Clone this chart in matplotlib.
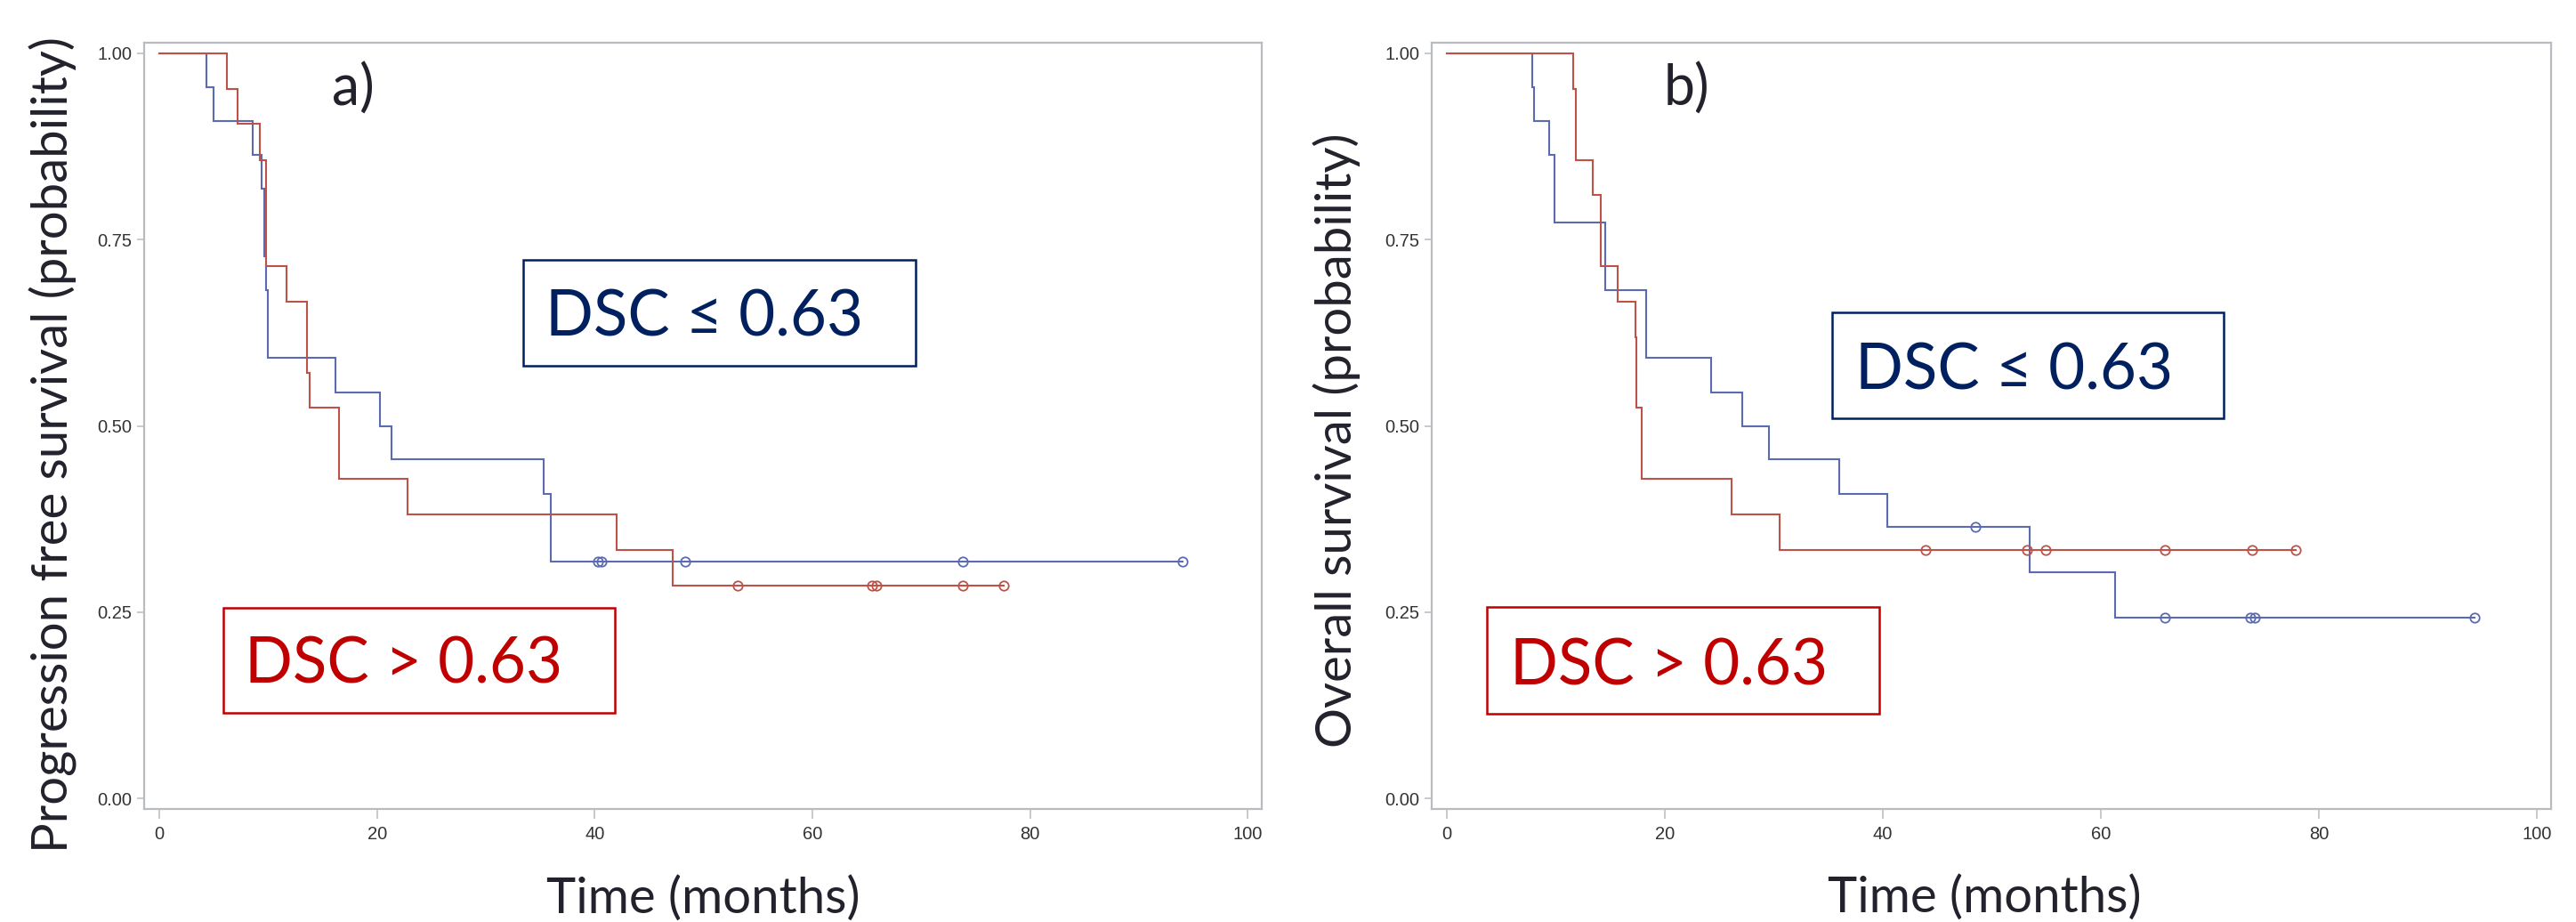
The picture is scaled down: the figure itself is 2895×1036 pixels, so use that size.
import numpy as np
import matplotlib
matplotlib.use("Agg")
import matplotlib.pyplot as plt
from matplotlib.patches import Rectangle

# ---------------- data ----------------
# Progression free survival, DSC <= 0.63 (blue)
pfs_low_t = [0, 4.3, 5.0, 8.6, 9.4, 9.6, 9.8, 10.0, 16.2, 20.3, 21.3, 35.3, 36.0]
pfs_low_s = [1.0, 0.955, 0.909, 0.864, 0.818, 0.727, 0.682, 0.591, 0.545, 0.500, 0.455, 0.409, 0.318]
pfs_low_end = 94.0
pfs_low_cens = [40.3, 40.6, 48.3, 73.8, 94.0]

# Progression free survival, DSC > 0.63 (red)
pfs_high_t = [0, 6.2, 7.2, 9.2, 9.8, 11.7, 13.6, 13.8, 16.5, 22.8, 42.0, 47.2]
pfs_high_s = [1.0, 0.952, 0.905, 0.857, 0.714, 0.667, 0.571, 0.524, 0.429, 0.381, 0.333, 0.286]
pfs_high_end = 77.6
pfs_high_cens = [53.1, 65.5, 65.9, 73.8, 77.6]

# Overall survival, DSC <= 0.63 (blue)
os_low_t = [0, 7.8, 8.0, 9.4, 9.9, 14.5, 18.3, 24.2, 27.1, 29.5, 36.0, 40.4, 53.5, 61.3]
os_low_s = [1.0, 0.955, 0.909, 0.864, 0.773, 0.682, 0.591, 0.545, 0.500, 0.455, 0.409, 0.364, 0.303, 0.242]
os_low_end = 94.3
os_low_cens = [48.5, 65.9, 73.7, 74.1, 94.3]

# Overall survival, DSC > 0.63 (red)
os_high_t = [0, 11.6, 11.8, 13.4, 14.1, 15.7, 17.3, 17.4, 17.9, 26.1, 30.5]
os_high_s = [1.0, 0.952, 0.857, 0.810, 0.714, 0.667, 0.619, 0.524, 0.429, 0.381, 0.333]
os_high_end = 77.9
os_high_cens = [43.9, 53.2, 54.9, 65.9, 73.9, 77.9]

x_ticks = [0, 20, 40, 60, 80, 100]
y_ticks = [0.00, 0.25, 0.50, 0.75, 1.00]
y_ticklabels = ["0.00", "0.25", "0.50", "0.75", "1.00"]
panel_letters = ["a)", "b)"]
y_titles = ["Progression free survival (probability)", "Overall survival (probability)"]
x_title = "Time (months)"
label_low = "DSC \u2264 0.63"
label_high = "DSC > 0.63"

# ---------------- style ----------------
W, H = 2895, 1036
DPI = 100
BLUE = "#5a6bb2"
RED = "#bd5248"
NAVY = "#002060"
DARKRED = "#c00000"
FRAME = "#b8bcc0"
TXT = "#22222c"
MAIN_FONT = ["Lato", "DejaVu Sans"]
TICK_FONT = ["Liberation Sans", "DejaVu Sans"]

fig = plt.figure(figsize=(W / DPI, H / DPI), dpi=DPI)


def fx(x):
    return x / W


def fy(y):
    return 1 - y / H


def add_axes(left, top, right, bottom):
    return fig.add_axes([fx(left), fy(bottom), (right - left) / W, (bottom - top) / H])


def km(ax, t, s, end, cens, color):
    tt = list(t) + [end]
    ss = list(s) + [s[-1]]
    ax.step(tt, ss, where="post", color=color, lw=1.5, solid_joinstyle="miter")
    idx = np.searchsorted(np.asarray(t), np.asarray(cens), side="right") - 1
    cy = np.asarray(s)[idx]
    ax.plot(cens, cy, linestyle="none", marker="o", markersize=7.5,
            markerfacecolor="none", markeredgecolor=color, markeredgewidth=1.3)


def style(ax):
    ax.set_xlim(-1.4, 101.3)
    ax.set_ylim(-0.0143, 1.0143)
    ax.set_xticks(x_ticks)
    ax.set_xticklabels([str(v) for v in x_ticks])
    ax.set_yticks(y_ticks)
    ax.set_yticklabels(y_ticklabels)
    for sp in ax.spines.values():
        sp.set_color(FRAME)
        sp.set_linewidth(1.6)
    ax.tick_params(axis="x", direction="out", length=8, width=1.1, color=FRAME,
                   pad=6, labelsize=14.5, labelcolor="#333333")
    ax.tick_params(axis="y", direction="out", length=6, width=1.1, color=FRAME,
                   pad=4, labelsize=14.5, labelcolor="#333333")
    for lab in ax.get_xticklabels() + ax.get_yticklabels():
        lab.set_family(TICK_FONT)


ax1 = add_axes(162, 48, 1418, 909)
ax2 = add_axes(1609, 48, 2867, 909)

km(ax1, pfs_low_t, pfs_low_s, pfs_low_end, pfs_low_cens, BLUE)
km(ax1, pfs_high_t, pfs_high_s, pfs_high_end, pfs_high_cens, RED)
km(ax2, os_low_t, os_low_s, os_low_end, os_low_cens, BLUE)
km(ax2, os_high_t, os_high_s, os_high_end, os_high_cens, RED)
style(ax1)
style(ax2)

# axis titles
fig.text(fx(60), fy(500), y_titles[0], rotation=90, ha="center", va="center",
         fontsize=40.5, color=TXT, family=MAIN_FONT)
fig.text(fx(1502), fy(495), y_titles[1], rotation=90, ha="center", va="center",
         fontsize=40.5, color=TXT, family=MAIN_FONT)
fig.text(fx(790), fy(1026), x_title, ha="center", va="baseline",
         fontsize=40.5, color=TXT, family=MAIN_FONT)
fig.text(fx(2230), fy(1025), x_title, ha="center", va="baseline",
         fontsize=40.5, color=TXT, family=MAIN_FONT)

# panel letters
fig.text(fx(373), fy(119), panel_letters[0], ha="left", va="baseline",
         fontsize=45, color=TXT, family=MAIN_FONT)
fig.text(fx(1870), fy(119), panel_letters[1], ha="left", va="baseline",
         fontsize=45, color=TXT, family=MAIN_FONT)


# group label boxes
def label_box(left, top, right, bottom, tx, baseline, text, color):
    r = Rectangle((fx(left), fy(bottom)), (right - left) / W, (bottom - top) / H,
                  transform=fig.transFigure, fill=False, edgecolor=color, linewidth=1.8)
    fig.add_artist(r)
    fig.text(fx(tx), fy(baseline), text, ha="left", va="baseline",
             fontsize=51, color=color, family=MAIN_FONT)


label_box(588, 292, 1029, 411, 613, 378, label_low, NAVY)
label_box(251, 683, 691, 801, 275, 768, label_high, DARKRED)
label_box(2059, 351, 2499, 470, 2085, 437, label_low, NAVY)
label_box(1671, 682, 2112, 802, 1697, 769, label_high, DARKRED)

fig.savefig("out.png", dpi=DPI, facecolor="white")
